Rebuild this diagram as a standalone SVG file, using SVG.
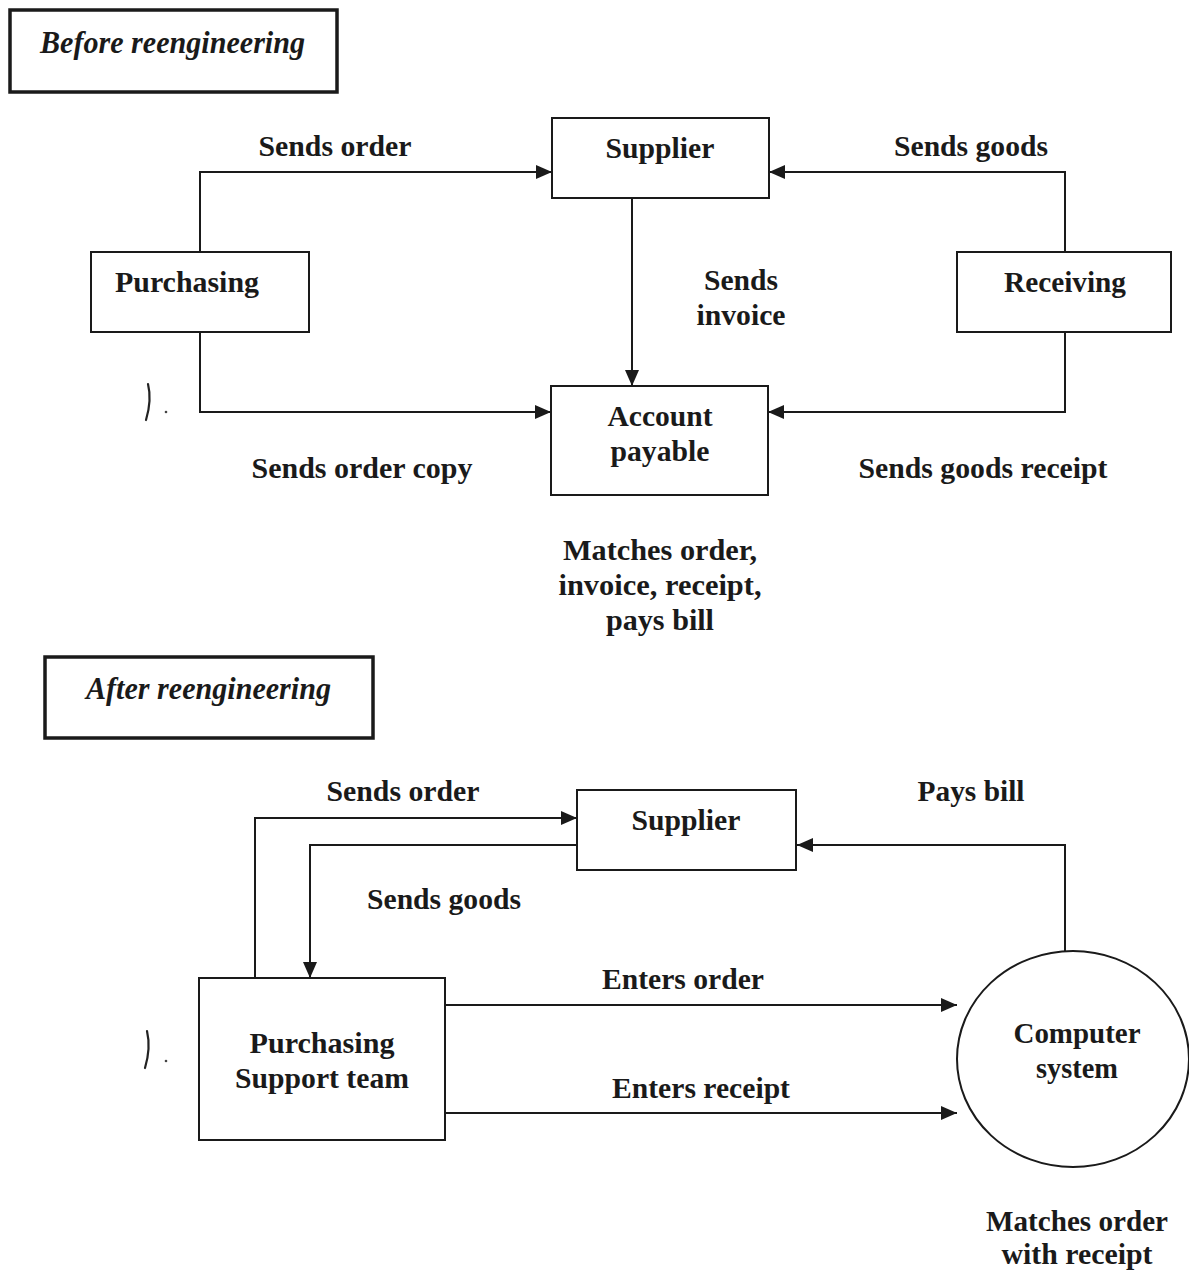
<svg xmlns="http://www.w3.org/2000/svg" width="1189" height="1272" viewBox="0 0 1189 1272">
  <style>
    .box { fill: #fff; stroke: #1a1a1a; stroke-width: 2; }
    .title-box { fill: #fff; stroke: #1a1a1a; stroke-width: 3.5; }
    .wire { fill: none; stroke: #1a1a1a; stroke-width: 2; }
    .lbl { font-family: "Liberation Serif", "Times New Roman", serif; font-weight: bold; font-size: 30px; fill: #1a1a1a; }
    .mid { text-anchor: middle; }
    .title { font-family: "Liberation Serif", "Times New Roman", serif; font-weight: bold; font-style: italic; font-size: 31px; fill: #1a1a1a; }
    .mark { fill: none; stroke: #222; stroke-width: 2.2; stroke-linecap: round; }
  </style>
  <defs>
    <marker id="arrow" viewBox="0 0 16 14" refX="16" refY="7" markerWidth="16" markerHeight="14" markerUnits="userSpaceOnUse" orient="auto">
      <path d="M0,0 L16,7 L0,14 Z" fill="#1a1a1a"/>
    </marker>
  </defs>
  <rect width="1189" height="1272" fill="#fff"/>

  <!-- Before reengineering -->
  <g id="title-before">
    <rect class="title-box" x="10" y="10" width="327" height="82"/>
    <text class="title" x="40" y="53" textLength="265" lengthAdjust="spacingAndGlyphs">Before reengineering</text>
  </g>

  <g id="connectors-before">
    <path class="wire" d="M200,252 V172 H552" marker-end="url(#arrow)"/>
    <path class="wire" d="M1065,252 V172 H769" marker-end="url(#arrow)"/>
    <path class="wire" d="M632,198 V386" marker-end="url(#arrow)"/>
    <path class="wire" d="M200,332 V412 H551" marker-end="url(#arrow)"/>
    <path class="wire" d="M1065,332 V412 H768" marker-end="url(#arrow)"/>
  </g>

  <g id="supplier-before">
    <rect class="box" x="552" y="118" width="217" height="80"/>
    <text class="lbl mid" x="660" y="158" textLength="109" lengthAdjust="spacingAndGlyphs">Supplier</text>
  </g>
  <g id="purchasing">
    <rect class="box" x="91" y="252" width="218" height="80"/>
    <text class="lbl" x="115" y="292" textLength="144" lengthAdjust="spacingAndGlyphs">Purchasing</text>
  </g>
  <g id="receiving">
    <rect class="box" x="957" y="252" width="214" height="80"/>
    <text class="lbl mid" x="1065" y="292" textLength="122" lengthAdjust="spacingAndGlyphs">Receiving</text>
  </g>
  <g id="account-payable">
    <rect class="box" x="551" y="386" width="217" height="109"/>
    <text class="lbl mid" x="660" y="426" textLength="105" lengthAdjust="spacingAndGlyphs">Account</text>
    <text class="lbl mid" x="660" y="461" textLength="99" lengthAdjust="spacingAndGlyphs">payable</text>
  </g>

  <g id="labels-before">
    <text class="lbl mid" x="335" y="156" textLength="153" lengthAdjust="spacingAndGlyphs">Sends order</text>
    <text class="lbl mid" x="971" y="156" textLength="154" lengthAdjust="spacingAndGlyphs">Sends goods</text>
    <text class="lbl mid" x="741" y="290" textLength="74" lengthAdjust="spacingAndGlyphs">Sends</text>
    <text class="lbl mid" x="741" y="325" textLength="89" lengthAdjust="spacingAndGlyphs">invoice</text>
    <text class="lbl mid" x="362" y="478" textLength="221" lengthAdjust="spacingAndGlyphs">Sends order copy</text>
    <text class="lbl mid" x="983" y="478" textLength="249" lengthAdjust="spacingAndGlyphs">Sends goods receipt</text>
    <text class="lbl mid" x="660" y="560" textLength="194" lengthAdjust="spacingAndGlyphs">Matches order,</text>
    <text class="lbl mid" x="660" y="595" textLength="203" lengthAdjust="spacingAndGlyphs">invoice, receipt,</text>
    <text class="lbl mid" x="660" y="630" textLength="108" lengthAdjust="spacingAndGlyphs">pays bill</text>
  </g>

  <!-- After reengineering -->
  <g id="title-after">
    <rect class="title-box" x="45" y="657" width="328" height="81"/>
    <text class="title" x="86" y="699" textLength="245" lengthAdjust="spacingAndGlyphs">After reengineering</text>
  </g>

  <g id="connectors-after">
    <path class="wire" d="M255,978 V818 H577" marker-end="url(#arrow)"/>
    <path class="wire" d="M577,845 H310 V978" marker-end="url(#arrow)"/>
    <path class="wire" d="M445,1005 H957" marker-end="url(#arrow)"/>
    <path class="wire" d="M445,1113 H957" marker-end="url(#arrow)"/>
    <path class="wire" d="M1065,951 V845 H797" marker-end="url(#arrow)"/>
  </g>

  <g id="supplier-after">
    <rect class="box" x="577" y="790" width="219" height="80"/>
    <text class="lbl mid" x="686" y="830" textLength="109" lengthAdjust="spacingAndGlyphs">Supplier</text>
  </g>
  <g id="purchasing-support-team">
    <rect class="box" x="199" y="978" width="246" height="162"/>
    <text class="lbl mid" x="322" y="1053" textLength="145" lengthAdjust="spacingAndGlyphs">Purchasing</text>
    <text class="lbl mid" x="322" y="1088" textLength="174" lengthAdjust="spacingAndGlyphs">Support team</text>
  </g>
  <g id="computer-system">
    <ellipse class="box" cx="1073" cy="1059" rx="116" ry="108"/>
    <text class="lbl mid" x="1077" y="1043" textLength="127" lengthAdjust="spacingAndGlyphs">Computer</text>
    <text class="lbl mid" x="1077" y="1078" textLength="82" lengthAdjust="spacingAndGlyphs">system</text>
  </g>

  <g id="labels-after">
    <text class="lbl mid" x="403" y="801" textLength="153" lengthAdjust="spacingAndGlyphs">Sends order</text>
    <text class="lbl mid" x="444" y="909" textLength="154" lengthAdjust="spacingAndGlyphs">Sends goods</text>
    <text class="lbl mid" x="971" y="801" textLength="107" lengthAdjust="spacingAndGlyphs">Pays bill</text>
    <text class="lbl mid" x="683" y="989" textLength="162" lengthAdjust="spacingAndGlyphs">Enters order</text>
    <text class="lbl mid" x="701" y="1098" textLength="178" lengthAdjust="spacingAndGlyphs">Enters receipt</text>
    <text class="lbl mid" x="1077" y="1231" textLength="182" lengthAdjust="spacingAndGlyphs">Matches order</text>
    <text class="lbl mid" x="1077" y="1264" textLength="151" lengthAdjust="spacingAndGlyphs">with receipt</text>
  </g>

  <!-- pen marks in the left margin -->
  <g id="margin-marks">
    <path class="mark" d="M148,384 Q152,400 146,420"/>
    <circle cx="166" cy="412" r="1.3" fill="#444"/>
    <path class="mark" d="M147,1031 Q151,1048 145,1068"/>
    <circle cx="166" cy="1061" r="1.3" fill="#444"/>
  </g>
</svg>
